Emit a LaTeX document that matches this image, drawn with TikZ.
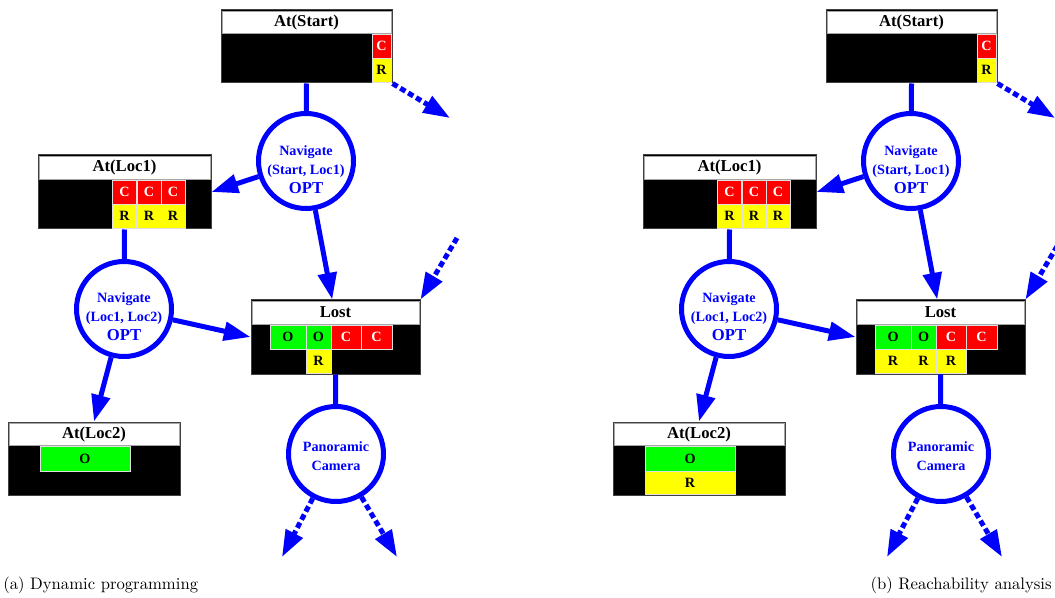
\documentclass[tikz,border=0pt]{standalone}
\usepackage{fontspec}
\newfontfamily\boxfont{Liberation Serif}
\usepackage{tikz}
\usetikzlibrary{arrows.meta,calc}
\newcommand{\linkcolor}{blue}
\newcommand{\linkwidth}{3pt}
\newcommand{\px}{0.6pt}
\definecolor{cellred}{RGB}{255,0,0}
\definecolor{cellyellow}{RGB}{255,255,0}
\definecolor{cellgreen}{RGB}{0,255,0}
\tikzset{
  statebox/.style={draw=black!75, fill=black, line width=0.6pt, inner sep=0pt},
  header/.style={draw=black!35, fill=white, line width=0.4pt, inner sep=0pt, font=\boxfont\bfseries\fontsize{10}{12}\selectfont},
  cell/.style={draw=black!12, line width=0.5pt, inner sep=0pt, minimum width=24*\px, minimum height=24*\px, font=\boxfont\bfseries\fontsize{8.5}{9}\selectfont},
  ccell/.style={cell, fill=cellred, text=white},
  rcell/.style={cell, fill=cellyellow},
  ocell/.style={cell, fill=cellgreen},
  task/.style={circle, draw=\linkcolor, line width=\linkwidth, minimum size=95*\px, inner sep=0pt},
  tasktext/.style={text=\linkcolor, align=center, font=\boxfont\bfseries\fontsize{8.5}{11.4}\selectfont},
  plain/.style={draw=\linkcolor, line width=\linkwidth},
  link/.style={plain, -{Triangle[length=16pt,width=11pt]}},
  dotlink/.style={link, dash pattern=on 3.5pt off 2pt},
  caption/.style={inner sep=0pt, font=\fontsize{10}{12}\selectfont},
}

\begin{document}
\begin{tikzpicture}[x=\px, y=-\px]
\clip (0,0) rectangle (1055,598);
%(a)
\node[statebox] (startA) at (306.5, 46.5) [minimum width=171*\px, minimum height=73*\px] {};
\node[header] (startAh) at (306.5, 22) [minimum width=169*\px, minimum height=22*\px] {At(Start)};
\node[ccell] (startAc) at (381.5, 46) [minimum width=19*\px] {C};
\node[rcell] (startAr) at (381.5, 70) [minimum width=19*\px] {R};

\node[statebox] (loc1A) at (124.5, 192) [minimum width=173*\px, minimum height=74*\px] {};
\node[header] (loc1Ah) at (124.5, 167.5) [minimum width=171*\px, minimum height=23*\px] {At(Loc1)};
\node[ccell] (loc1Ac1) at (124.5, 192) {C};
\node[ccell] (loc1Ac2) at (149, 192) {C};
\node[ccell] (loc1Ac3) at (173, 192) {C};
\node[rcell] (loc1Ar1) at (124.5, 216) {R};
\node[rcell] (loc1Ar2) at (149, 216) {R};
\node[rcell] (loc1Ar3) at (173, 216) {R};

\node[statebox] (lostA) at (335.5, 337) [minimum width=169*\px, minimum height=74*\px] {};
\node[header] (lostAh) at (335.5, 312.5) [minimum width=167*\px, minimum height=23*\px] {Lost};
\node[ocell] (lostAo1) at (288, 337) [minimum width=36*\px] {O};
\node[ocell] (lostAo2) at (318.5, 337) [minimum width=25*\px] {O};
\node[ccell] (lostAc1) at (346, 337) [minimum width=30*\px] {C};
\node[ccell] (lostAc2) at (376.5, 337) [minimum width=31*\px] {C};
\node[rcell] (lostAr2) at (318.5, 361) [minimum width=25*\px] {R};

\node[statebox] (loc2A) at (94, 458.5) [minimum width=172*\px, minimum height=73*\px] {};
\node[header] (loc2Ah) at (94, 434) [minimum width=170*\px, minimum height=22*\px] {At(Loc2)};
\node[ocell] (loc2Ao) at (85, 458.5) [minimum width=90*\px, minimum height=25*\px] {O};

\node[task, label={[tasktext, yshift=-5.5pt]center:{Navigate\\(Start, Loc1)\\{\fontsize{10}{12}\selectfont OPT}}}] (nav1A) at (306, 161) {};
\node[task, label={[tasktext, yshift=-4.5pt]center:{Navigate\\(Loc1, Loc2)\\{\fontsize{10}{12}\selectfont OPT}}}] (nav2A) at (124, 309) {};
\node[task, label={[tasktext, yshift=-1.5pt]center:{Panoramic\\Camera}}] (camA) at (336, 454) {};

\coordinate (outA1) at (450, 118);
\coordinate (inA1) at (457, 238);
\coordinate (outA2) at (282, 557);
\coordinate (outA3) at (397, 557);

\draw[plain] (startA.south) -- (nav1A);
\draw[link] (nav1A) -- (loc1A.east);
\draw[link] (nav1A) -- (lostA.95);
\draw[plain] (loc1A.south) -- (nav2A);
\draw[link] (nav2A) -- (lostA.west);
\draw[link] (nav2A) -- (loc2A.north);
\draw[plain] (lostA.south) -- (camA);
\draw[dotlink] (startA.south east) -- (outA1);
\draw[dotlink] (inA1) -- (lostA.north east);
\draw[dotlink] (camA) -- (outA2);
\draw[dotlink] (camA) -- (outA3);

%(b)
\begin{scope}[shift={(605,0)}]
\node[statebox] (startB) at (306.5, 46.5) [minimum width=171*\px, minimum height=73*\px] {};
\node[header] (startBh) at (306.5, 22) [minimum width=169*\px, minimum height=22*\px] {At(Start)};
\node[ccell] (startBc) at (381.5, 46) [minimum width=19*\px] {C};
\node[rcell] (startBr) at (381.5, 70) [minimum width=19*\px] {R};

\node[statebox] (loc1B) at (124.5, 192) [minimum width=173*\px, minimum height=74*\px] {};
\node[header] (loc1Bh) at (124.5, 167.5) [minimum width=171*\px, minimum height=23*\px] {At(Loc1)};
\node[ccell] (loc1Bc1) at (124.5, 192) {C};
\node[ccell] (loc1Bc2) at (149, 192) {C};
\node[ccell] (loc1Bc3) at (173, 192) {C};
\node[rcell] (loc1Br1) at (124.5, 216) {R};
\node[rcell] (loc1Br2) at (149, 216) {R};
\node[rcell] (loc1Br3) at (173, 216) {R};

\node[statebox] (lostB) at (335.5, 337) [minimum width=169*\px, minimum height=74*\px] {};
\node[header] (lostBh) at (335.5, 312.5) [minimum width=167*\px, minimum height=23*\px] {Lost};
\node[ocell] (lostBo1) at (288, 337) [minimum width=36*\px] {O};
\node[ocell] (lostBo2) at (318.5, 337) [minimum width=25*\px] {O};
\node[ccell] (lostBc1) at (346, 337) [minimum width=30*\px] {C};
\node[ccell] (lostBc2) at (376.5, 337) [minimum width=31*\px] {C};
\node[rcell] (lostBr1) at (288, 361) [minimum width=36*\px] {R};
\node[rcell] (lostBr2) at (318.5, 361) [minimum width=25*\px] {R};
\node[rcell] (lostBr3) at (346, 361) [minimum width=30*\px] {R};

\node[statebox] (loc2B) at (94, 458.5) [minimum width=172*\px, minimum height=73*\px] {};
\node[header] (loc2Bh) at (94, 434) [minimum width=170*\px, minimum height=22*\px] {At(Loc2)};
\node[ocell] (loc2Bo) at (85, 458.5) [minimum width=90*\px, minimum height=25*\px] {O};
\node[rcell] (loc2Br) at (85, 482.5) [minimum width=90*\px, minimum height=23*\px] {R};

\node[task, label={[tasktext, yshift=-5.5pt]center:{Navigate\\(Start, Loc1)\\{\fontsize{10}{12}\selectfont OPT}}}] (nav1B) at (306, 161) {};
\node[task, label={[tasktext, yshift=-4.5pt]center:{Navigate\\(Loc1, Loc2)\\{\fontsize{10}{12}\selectfont OPT}}}] (nav2B) at (124, 309) {};
\node[task, label={[tasktext, yshift=-1.5pt]center:{Panoramic\\Camera}}] (camB) at (336, 454) {};

\coordinate (outB1) at (450, 118);
\coordinate (inB1) at (457, 238);
\coordinate (outB2) at (282, 557);
\coordinate (outB3) at (397, 557);

\draw[plain] (startB.south) -- (nav1B);
\draw[link] (nav1B) -- (loc1B.east);
\draw[link] (nav1B) -- (lostB.95);
\draw[plain] (loc1B.south) -- (nav2B);
\draw[link] (nav2B) -- (lostB.west);
\draw[link] (nav2B) -- (loc2B.north);
\draw[plain] (lostB.south) -- (camB);
\draw[dotlink] (startB.south east) -- (outB1);
\draw[dotlink] (inB1) -- (lostB.north east);
\draw[dotlink] (camB) -- (outB2);
\draw[dotlink] (camB) -- (outB3);
\end{scope}

\node[caption, anchor=base west] (capA) at (3, 589) {(a) Dynamic programming};
\node[caption, anchor=base east] (capB) at (1052, 589) {(b) Reachability analysis};
\end{tikzpicture}
\end{document}
